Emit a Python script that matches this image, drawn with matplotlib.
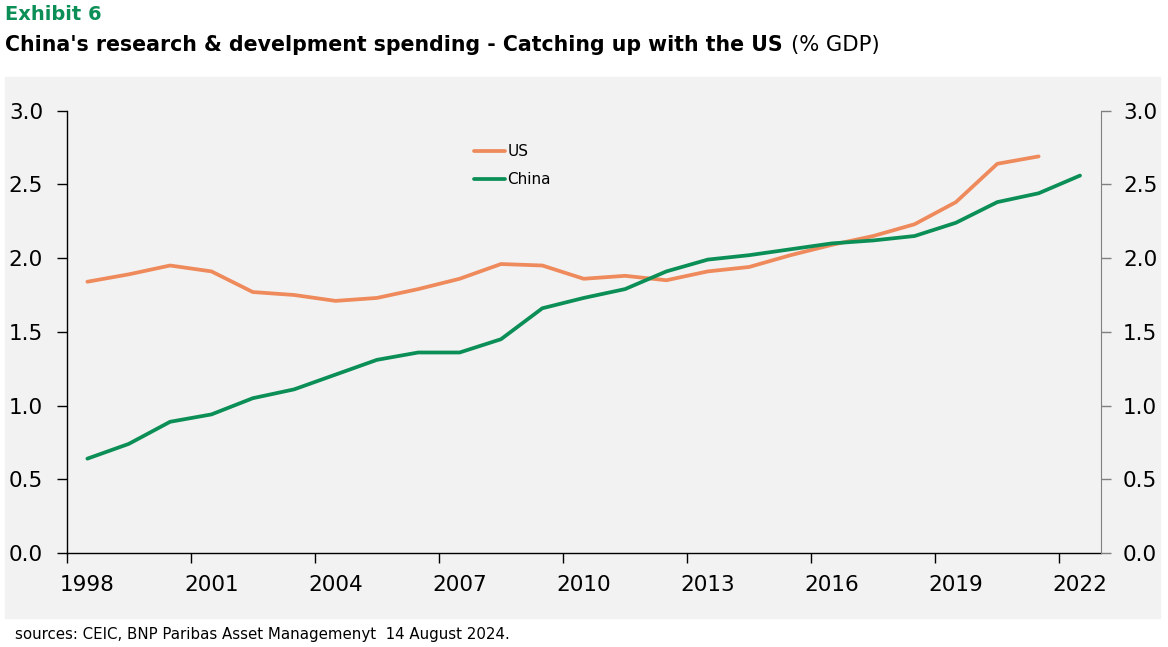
import numpy as np
import matplotlib
matplotlib.use("Agg")
import matplotlib.pyplot as plt
from matplotlib.patches import Rectangle
from matplotlib.ticker import FixedLocator, NullFormatter

years = list(range(1998, 2023))
us = [1.84, 1.89, 1.95, 1.91, 1.77, 1.75, 1.71, 1.73, 1.79, 1.86, 1.96, 1.95,
      1.86, 1.88, 1.85, 1.91, 1.94, 2.02, 2.09, 2.15, 2.23, 2.38, 2.64, 2.69]
china = [0.64, 0.74, 0.89, 0.94, 1.05, 1.11, 1.21, 1.31, 1.36, 1.36, 1.45, 1.66,
         1.73, 1.79, 1.91, 1.99, 2.02, 2.06, 2.10, 2.12, 2.15, 2.24, 2.38, 2.44, 2.56]
year_labels = list(range(1998, 2023, 3))
y_ticks = [0.0, 0.5, 1.0, 1.5, 2.0, 2.5, 3.0]

us_col = '#EE8A5B'
cn_col = '#0B8F57'
panel = '#f2f2f2'

W, H = 1168, 647
fig = plt.figure(figsize=(W / 100, H / 100), dpi=100)

# grey panel behind the chart
fig.patches.append(Rectangle((5 / W, 1 - 618 / H), 1155 / W, 541 / H,
                             transform=fig.transFigure, color=panel, zorder=-5))

ax = fig.add_axes([66.7 / W, 1 - 553 / H, 1034 / W, 442.3 / H])
ax.set_facecolor('none')

ax.plot(years[:len(us)], us, color=us_col, lw=2.7, label='US', solid_capstyle='round')
ax.plot(years, china, color=cn_col, lw=2.7, label='China', solid_capstyle='round')

ax.set_xlim(1997.5, 2022.5)
ax.set_ylim(0, 3.0)

ax.xaxis.set_major_locator(FixedLocator(year_labels))
ax.set_xticklabels([str(y) for y in year_labels])
ax.xaxis.set_minor_locator(FixedLocator([y - 0.5 for y in year_labels]))
ax.xaxis.set_minor_formatter(NullFormatter())
ax.tick_params(axis='x', which='major', length=0, pad=16, labelsize=15.5)
ax.tick_params(axis='x', which='minor', length=7, width=1, direction='out', color='black')

ax.set_yticks(y_ticks)
ax.set_yticklabels(['%.1f' % v for v in y_ticks])
ax.tick_params(axis='y', length=7, width=1, direction='out', pad=10, labelsize=15.5)

for s in ['top', 'right']:
    ax.spines[s].set_visible(False)
ax.spines['left'].set_linewidth(1)
ax.spines['bottom'].set_linewidth(1)

ax2 = ax.twinx()
ax2.set_ylim(0, 3.0)
ax2.set_yticks(y_ticks)
ax2.set_yticklabels(['%.1f' % v for v in y_ticks])
ax2.tick_params(axis='y', length=7, width=1, direction='out', pad=9, labelsize=15.5,
                color='#808080')
for s in ['top', 'left', 'bottom']:
    ax2.spines[s].set_visible(False)
ax2.spines['right'].set_color('#808080')
ax2.set_facecolor('none')

ax.legend(loc='upper left', bbox_to_anchor=(474 / W, 1 - 144 / H),
          bbox_transform=fig.transFigure, frameon=False, fontsize=11,
          handlelength=2.0, handletextpad=0.2, labelspacing=0.88,
          borderpad=0, borderaxespad=0)

fig.text(5 / W, 1 - 15 / H, 'Exhibit 6', color=cn_col, fontsize=14, fontweight='bold',
         va='center', ha='left')
t = fig.text(5 / W, 1 - 45 / H, "China's research & develpment spending - Catching up with the US",
             color='black', fontsize=14.8, fontweight='bold', va='center', ha='left')
# put the unit right after the bold title
fig.canvas.draw()
bb = t.get_window_extent()
fig.text((bb.x1 + 8) / W, 1 - 45 / H, '(% GDP)', color='black', fontsize=15.2,
         va='center', ha='left')
fig.text(15 / W, 1 - 635 / H, 'sources: CEIC, BNP Paribas Asset Managemenyt  14 August 2024.',
         color='black', fontsize=10.8, va='center', ha='left')

fig.savefig('out.png', dpi=100)
